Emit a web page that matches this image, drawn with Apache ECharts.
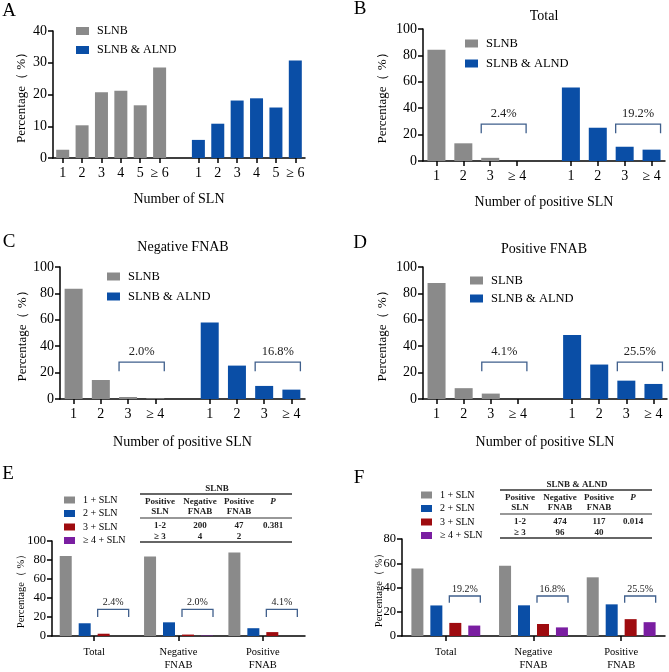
<!DOCTYPE html>
<html><head><meta charset="utf-8">
<script src="https://cdn.jsdelivr.net/npm/echarts@6.0.0/dist/echarts.min.js"></script>
<style>html,body{margin:0;padding:0;background:#fff}#c{width:669px;height:672px}</style>
</head><body><div id="c"></div>
<script>
// ---------- data ----------
const catsA = ['1','2','3','4','5','≥ 6','','1','2','3','4','5','≥ 6'];
const slnbA = [2.6,10.3,20.7,21.2,16.6,28.5];
const alndA = [5.7,10.8,18.1,18.8,15.9,30.7];

const catsPos = ['1','2','3','≥ 4','','1','2','3','≥ 4'];
const slnbTotal = [84.2,13.4,2.4,0];
const alndTotal = [55.6,25.2,10.8,8.6];
const slnbNeg = [83.6,14.4,1.5,0.5];
const alndNeg = [58.0,25.3,9.9,7.1];
const slnbPosF = [87.8,8.2,4.1,0];
const alndPosF = [48.4,26.1,13.9,11.4];

const groupCats = ['Total','Negative\nFNAB','Positive\nFNAB'];
const slnCats = ['1 + SLN','2 + SLN','3 + SLN','≥ 4 + SLN'];

const pctB = ['2.4%','19.2%'];
const pctC = ['2.0%','16.8%'];
const pctD = ['4.1%','25.5%'];
const pctE = ['2.4%','2.0%','4.1%'];
const pctF = ['19.2%','16.8%','25.5%'];

const tableHead = [['Positive','SLN'],['Negative','FNAB'],['Positive','FNAB'],['P','']];
const tableE = [['1-2','200','47','0.381'],['≥ 3','4','2','']];
const tableF = [['1-2','474','117','0.014'],['≥ 3','96','40','']];

// ---------- style ----------
const SERIF = 'Liberation Serif';
const GRAY = '#8a8a8a', BLUE = '#0a4ea6', RED = '#9e0b0f', PURPLE = '#7a1ea1';
const BR = '#3f5f8c';
const yName = 'Percentage（ %）';

const chart = echarts.init(document.getElementById('c'), null, {renderer:'canvas'});

const grids = [
  {left:53, top:31, width:252, height:127},
  {left:423, top:29, width:242, height:132},
  {left:60, top:267, width:245, height:132},
  {left:423, top:267, width:244, height:132},
  {left:52, top:541, width:253, height:103},
  {left:402, top:539, width:263, height:105}
];

const axLine = {show:true, lineStyle:{color:'#000', width:1.5}};
const axTick = {show:true, length:5, lineStyle:{color:'#000', width:1.5}};

function xCat(gi, data, opt) {
  return Object.assign({
    type:'category', gridIndex:gi, data:data, boundaryGap:true,
    axisLine:axLine,
    axisTick:Object.assign({}, axTick, {alignWithLabel:true, interval:(i, v) => v !== ''}),
    axisLabel:{interval:0, color:'#000', fontFamily:SERIF, fontSize:14, margin:8},
    splitLine:{show:false},
    nameLocation:'middle', nameTextStyle:{color:'#000', fontFamily:SERIF, fontSize:14}
  }, opt || {});
}
function yVal(gi, max, interval, gap, fs, lfs, extra) {
  return Object.assign({
    type:'value', gridIndex:gi, min:0, max:max, interval:interval,
    axisLine:axLine, axisTick:axTick,
    axisLabel:{color:'#000', fontFamily:SERIF, fontSize:lfs, margin:6},
    splitLine:{show:false},
    name:yName, nameLocation:'middle', nameGap:gap,
    nameTextStyle:{color:'#000', fontFamily:SERIF, fontSize:fs}
  }, extra || {});
}

const dash = n => Array.from({length:n}, () => '-');

function pairSeries(xi, slnb, alnd, bw) {
  return [
    {type:'bar', name:'SLNB', xAxisIndex:xi, yAxisIndex:xi, barWidth:bw, barGap:'-100%',
      itemStyle:{color:GRAY}, data:[...slnb, '-', ...dash(alnd.length)]},
    {type:'bar', name:'SLNB & ALND', xAxisIndex:xi, yAxisIndex:xi, barWidth:bw, barGap:'-100%',
      itemStyle:{color:BLUE}, data:[...dash(slnb.length), '-', ...alnd]}
  ];
}

function bracketSeries(xi, data, labels, offL, offR, fs) {
  return {
    type:'custom', xAxisIndex:xi, yAxisIndex:xi, silent:true, z:5,
    encode:{x:[0,1], y:[2,3,4]},
    data:data,
    renderItem:function(params, api) {
      const s = api.coord([api.value(0), api.value(2)]);
      const e = api.coord([api.value(1), api.value(2)]);
      const yb = api.coord([api.value(0), api.value(3)])[1];
      const yl = api.coord([api.value(0), api.value(4)])[1];
      const x1 = s[0] + offL, x2 = e[0] + offR, yt = s[1];
      return {type:'group', children:[
        {type:'polyline', shape:{points:[[x1,yb],[x1,yt],[x2,yt],[x2,yb]]},
          style:{stroke:BR, lineWidth:1.3, fill:'none'}},
        {type:'text', style:{text:labels[params.dataIndex], x:(x1+x2)/2, y:yl,
          align:'center', verticalAlign:'middle', fontFamily:SERIF, fontSize:fs, fill:'#222'}}
      ]};
    }
  };
}

function groupSeries(xi, arrs) {
  const cols = [GRAY, BLUE, RED, PURPLE];
  return slnCats.map((nm, k) => ({
    type:'bar', name:nm, xAxisIndex:xi, yAxisIndex:xi, barWidth:12, barGap:'58%',
    itemStyle:{color:cols[k]}, data:arrs.map(a => a[k])
  }));
}

const grpLabel = {interval:0, color:'#000', fontFamily:SERIF, fontSize:10.5, lineHeight:13, margin:10};
const xAxes = [
  xCat(0, catsA, {name:'Number of SLN', nameGap:34}),
  xCat(1, catsPos, {name:'Number of positive SLN', nameGap:34}),
  xCat(2, catsPos, {name:'Number of positive SLN', nameGap:36}),
  xCat(3, catsPos, {name:'Number of positive SLN', nameGap:36}),
  xCat(4, groupCats, {axisTick:Object.assign({}, axTick, {alignWithLabel:true}), axisLabel:grpLabel}),
  xCat(5, groupCats, {axisTick:Object.assign({}, axTick, {alignWithLabel:true}), axisLabel:grpLabel})
];
const yAxes = [
  yVal(0, 40, 10, 25, 13, 14),
  yVal(1, 100, 20, 34, 13, 14),
  yVal(2, 100, 20, 30, 13, 14),
  yVal(3, 100, 20, 34, 13, 14),
  yVal(4, 100, 20, 25, 10.5, 12.5, {nameMoveOverlap:false}),
  yVal(5, 80, 20, 17, 10.5, 12.5, {nameMoveOverlap:false})
];

const brPos = [[2,3,28,21,35.5],[7,8,28,21,35.5]];
const brE = [[0,0,28,20,35],[1,1,28,20,35],[2,2,28,20,35]];
const brF = [[0,0,33,27.5,38.5],[1,1,33,27.5,38.5],[2,2,33,27.5,38.5]];

const series = [
  ...pairSeries(0, slnbA, alndA, 13),
  ...pairSeries(1, slnbTotal, alndTotal, 18),
  ...pairSeries(2, slnbNeg, alndNeg, 18),
  ...pairSeries(3, slnbPosF, alndPosF, 18),
  bracketSeries(1, brPos, pctB, -9, 9, 12.5),
  bracketSeries(2, brPos, pctC, -9, 9, 12.5),
  bracketSeries(3, brPos, pctD, -9, 9, 12.5),
  ...groupSeries(4, [slnbTotal, slnbNeg, slnbPosF]),
  ...groupSeries(5, [alndTotal, alndNeg, alndPosF]),
  bracketSeries(4, brE, pctE, 3.5, 34.5, 10),
  bracketSeries(5, brF, pctF, 3.5, 34.5, 10)
];

function lg(left, top, gap, names, fs, iw, ih) {
  return {left:left, top:top, orient:'vertical', padding:0, itemGap:gap, itemWidth:iw, itemHeight:ih,
    icon:'rect', selectedMode:false, data:names,
    textStyle:{color:'#000', fontFamily:SERIF, fontSize:fs, padding:[0,0,0,3]}};
}
const pairNames = ['SLNB','SLNB & ALND'];
const legends = [
  lg(76, 25, 7, pairNames, 12, 13, 8),
  lg(465, 37, 7, pairNames, 12.5, 13, 8),
  lg(107, 270, 7, pairNames, 12.5, 13, 8),
  lg(470, 274, 5, pairNames, 12.5, 13, 8),
  lg(64, 495, 3.5, slnCats, 10, 11, 7),
  lg(421, 490, 3.5, slnCats, 10, 11, 7)
];

// graphics: panel letters, titles, tables
const g = [];
function txt(t, x, y, fs, opt) {
  g.push({type:'text', silent:true, style:Object.assign({text:t, x:x, y:y, align:'center',
    verticalAlign:'middle', fontFamily:SERIF, fontSize:fs, fill:'#000'}, opt || {})});
}
[['A',9,11],['B',360,9],['C',9,242],['D',360,243],['E',8,474],['F',359,478]]
  .forEach(l => txt(l[0], l[1], l[2], 19));
txt('Total', 544, 16, 14);
txt('Negative FNAB', 183, 247, 14);
txt('Positive FNAB', 544, 249, 14);

function hline(x1, x2, y, w) {
  g.push({type:'line', silent:true, shape:{x1:x1, y1:y, x2:x2, y2:y}, style:{stroke:'#333', lineWidth:w}});
}
function table(x0, y0, title, rows) {
  const cols = [20, 60, 99, 133];
  const B = {fontWeight:'bold', fill:'#222'};
  hline(x0, x0+152, y0, 1.3);
  hline(x0, x0+152, y0+24, 1.1);
  hline(x0, x0+152, y0+48, 1.3);
  txt(title, x0+77, y0-5, 9, B);
  tableHead.forEach((h, i) => {
    txt(h[0], x0+cols[i], y0+8, 9, i === 3 ? {fontStyle:'italic', fontWeight:'bold', fill:'#222'} : B);
    if (h[1]) txt(h[1], x0+cols[i], y0+18, 9, B);
  });
  rows.forEach((r, ri) => r.forEach((c, ci) => { if (c) txt(c, x0+cols[ci], y0+32+ri*11, 9, B); }));
}
table(140, 494, 'SLNB', tableE);
table(500, 490, 'SLNB & ALND', tableF);

chart.setOption({
  animation:false,
  backgroundColor:'#fff',
  grid:grids,
  xAxis:xAxes,
  yAxis:yAxes,
  legend:legends,
  series:series,
  graphic:g
});
</script>
</body></html>
